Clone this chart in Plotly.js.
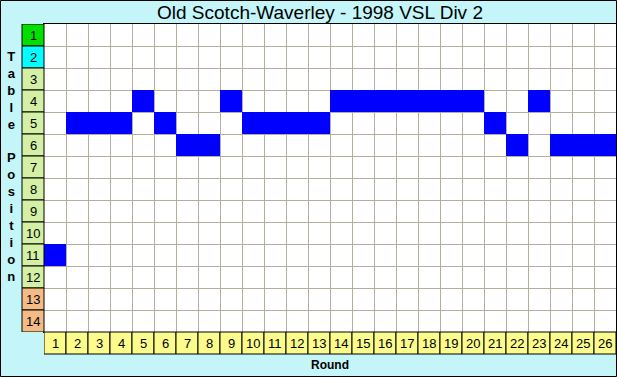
<!DOCTYPE html>
<html>
<head>
<meta charset="utf-8">
<script src="https://cdn.plot.ly/plotly-3.0.1.min.js"></script>
<style>html,body{margin:0;padding:0;background:#c4f5f8;}</style>
</head>
<body>
<div id="chart" style="width:617px;height:377px;"></div>
<script>
// Data
const rounds = [1,2,3,4,5,6,7,8,9,10,11,12,13,14,15,16,17,18,19,20,21,22,23,24,25,26];
const positionsHeld = [11,5,5,5,4,5,6,6,4,5,5,5,5,4,4,4,4,4,4,4,5,6,4,6,6,6];
const tablePositions = [1,2,3,4,5,6,7,8,9,10,11,12,13,14];
const titleText = "Old Scotch-Waverley - 1998 VSL Div 2";
const xTitle = "Round";
const yTitle = "Table Position";

// Build heatmap matrix from data
const z = tablePositions.map(p => rounds.map((r, i) => positionsHeld[i] === p ? 1 : null));

const W = 617, H = 377, L = 44, R = 1, T = 24, B = 45;
const PW = W - L - R, PH = H - T - B;

function rowColor(p) {
  if (p === 1) return '#00e000';
  if (p === 2) return '#00ffff';
  if (p >= 13) return '#f4bc84';
  return '#d4f0a4';
}

const shapes = [];
const annotations = [];
const labelFont = {family:'Arial, Liberation Sans', size:13, color:'#000'};

// Row label boxes
tablePositions.forEach(p => {
  shapes.push({type:'rect', xref:'paper', yref:'y', x0:-22/PW, x1:0, y0:p-0.5, y1:p+0.5,
    fillcolor: rowColor(p), line:{color:'#000000', width:1}, layer:'above'});
  annotations.push({xref:'paper', yref:'y', x:-11/PW, y:p, text:String(p), showarrow:false,
    xanchor:'center', yanchor:'middle', font:labelFont});
});
// Column label boxes
rounds.forEach(r => {
  shapes.push({type:'rect', xref:'x', yref:'paper', x0:r-0.5, x1:r+0.5, y0:-22/PH, y1:0,
    fillcolor:'#fcfc8c', line:{color:'#000000', width:1}, layer:'above'});
  annotations.push({xref:'x', yref:'paper', x:r, y:-11/PH, text:String(r), showarrow:false,
    xanchor:'center', yanchor:'middle', font:labelFont});
});
// Outer border
shapes.push({type:'rect', xref:'paper', yref:'paper',
  x0:(0.5-L)/PW, x1:(616.5-L)/PW, y0:(T+PH-376.5)/PH, y1:(T+PH-0.5)/PH,
  line:{color:'#000', width:1}, fillcolor:'rgba(0,0,0,0)', layer:'above'});

// Axis titles
annotations.push({xref:'paper', yref:'paper', x:0.5, y:-(365-(T+PH))/PH, text:'<b>'+xTitle+'</b>',
  showarrow:false, xanchor:'center', yanchor:'middle', font:{family:'Arial, Liberation Sans', size:12, color:'#000'}});
annotations.push({xref:'paper', yref:'paper', x:-(L-11)/PW, y:(T+PH-166)/PH,
  text:'<b>' + yTitle.split('').map(c => c === ' ' ? '&nbsp;' : c).join('<br>') + '</b>',
  showarrow:false, xanchor:'center', yanchor:'middle', align:'center',
  font:{family:'Arial, Liberation Sans', size:13, color:'#000'}});

const gridVals = [];
for (let i = 0; i <= rounds.length; i++) gridVals.push(i + 0.5);
const gridValsY = [];
for (let i = 0; i <= tablePositions.length; i++) gridValsY.push(i + 0.5);

const trace = {
  type:'heatmap', x:rounds, y:tablePositions, z:z,
  colorscale:[[0,'#0000ff'],[1,'#0000ff']], showscale:false, hoverinfo:'skip',
  zmin:0, zmax:1
};

const layout = {
  width:W, height:H,
  margin:{l:L, r:R, t:T, b:B, pad:0},
  paper_bgcolor:'#c4f5f8', plot_bgcolor:'#ffffff',
  title:{text:titleText, x:320/W, xanchor:'center', xref:'container', y:1-12/H, yanchor:'middle', yref:'container',
    font:{family:'Arial, Liberation Sans', size:19, color:'#000'}},
  xaxis:{range:[0.5, rounds.length+0.5], tickvals:gridVals, showticklabels:false, ticks:'',
    showgrid:true, gridcolor:'#b4ae9e', gridwidth:1, zeroline:false,
    showline:true, mirror:true, linecolor:'#000', linewidth:1, fixedrange:true},
  yaxis:{range:[tablePositions.length+0.5, 0.5], tickvals:gridValsY, showticklabels:false, ticks:'',
    showgrid:true, gridcolor:'#b4ae9e', gridwidth:1, zeroline:false,
    showline:true, mirror:true, linecolor:'#000', linewidth:1, fixedrange:true},
  shapes:shapes, annotations:annotations, showlegend:false
};

Plotly.newPlot('chart', [trace], layout, {displayModeBar:false, staticPlot:true});
</script>
</body>
</html>
